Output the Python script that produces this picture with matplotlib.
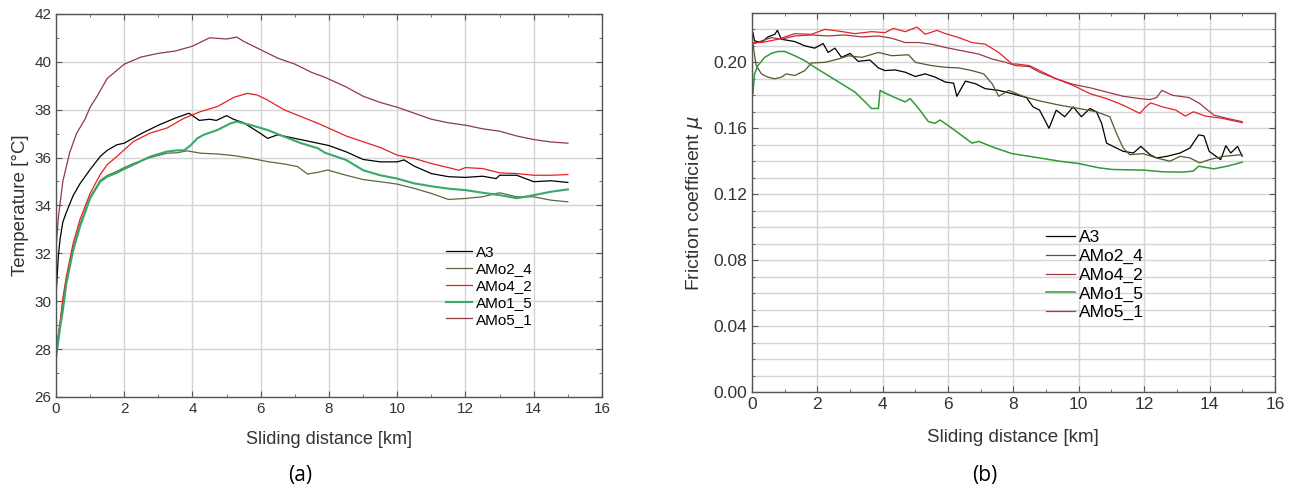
import matplotlib.pyplot as plt
from matplotlib.ticker import MultipleLocator

plt.rcParams['font.family'] = ['Liberation Sans', 'DejaVu Sans']

# ---- (a) temperature vs sliding distance ----
t_a3_x = [0, 0.07, 0.12, 0.2, 0.3, 0.5, 0.7, 1.0, 1.3, 1.5, 1.78, 2.0, 2.5, 3.0, 3.5, 3.9, 4.0, 4.2,
          4.5, 4.7, 5.0, 5.2, 5.5, 6.0, 6.2, 6.5, 7.0, 7.5, 8.0, 8.5, 9.0, 9.5, 10.0, 10.2, 10.5,
          11.0, 11.5, 12.0, 12.5, 12.9, 13.0, 13.5, 14.0, 14.5, 15.0]
t_a3_y = [30.2, 31.9, 32.6, 33.3, 33.7, 34.4, 34.9, 35.5, 36.05, 36.3, 36.53, 36.6, 37.0, 37.35,
          37.65, 37.85, 37.75, 37.55, 37.6, 37.55, 37.75, 37.6, 37.45, 37.0, 36.8, 36.95, 36.8,
          36.65, 36.5, 36.24, 35.92, 35.82, 35.82, 35.9, 35.64, 35.33, 35.2, 35.17, 35.22, 35.12,
          35.26, 35.26, 34.99, 35.03, 34.96]

t_amo24_x = [0, 0.12, 0.2, 0.3, 0.5, 0.7, 1.0, 1.3, 1.5, 1.78, 2.0, 2.27, 2.76, 3.25, 3.55, 3.84,
             4.24, 4.73, 5.22, 5.7, 6.2, 6.69, 7.08, 7.37, 7.67, 7.96, 8.5, 9.0, 9.5, 10.0, 10.5,
             11.0, 11.5, 12.0, 12.5, 13.0, 13.5, 14.0, 14.5, 15.0]
t_amo24_y = [27.9, 29.1, 29.9, 30.9, 32.2, 33.2, 34.35, 35.05, 35.25, 35.42, 35.58, 35.75, 36.0,
             36.18, 36.2, 36.28, 36.18, 36.15, 36.08, 35.97, 35.83, 35.73, 35.62, 35.31, 35.38,
             35.48, 35.26, 35.08, 34.99, 34.89, 34.71, 34.5, 34.25, 34.29, 34.36, 34.53, 34.36,
             34.36, 34.22, 34.15]

t_amo42_x = [0, 0.12, 0.2, 0.3, 0.5, 0.7, 1.0, 1.3, 1.5, 1.78, 2.27, 2.76, 3.25, 3.75, 4.24, 4.73,
             5.22, 5.61, 5.9, 6.2, 6.69, 7.18, 7.67, 7.88, 8.5, 9.0, 9.5, 10.0, 10.5, 11.0, 11.5,
             11.8, 12.0, 12.5, 13.0, 13.5, 14.0, 14.5, 15.0]
t_amo42_y = [27.9, 29.1, 30.1, 31.0, 32.4, 33.4, 34.5, 35.3, 35.7, 36.04, 36.67, 37.02, 37.23,
             37.64, 37.92, 38.13, 38.52, 38.68, 38.61, 38.4, 37.99, 37.71, 37.43, 37.3, 36.9,
             36.66, 36.42, 36.1, 35.96, 35.75, 35.58, 35.47, 35.58, 35.54, 35.36, 35.33, 35.26,
             35.26, 35.29]

t_amo15_x = [0, 0.12, 0.2, 0.3, 0.5, 0.7, 1.0, 1.3, 1.5, 1.78, 2.0, 2.27, 2.76, 3.25, 3.55, 3.75,
             3.94, 4.14, 4.33, 4.73, 5.12, 5.3, 5.7, 6.2, 6.69, 7.18, 7.67, 7.88, 8.5, 9.0, 9.5,
             10.0, 10.5, 11.0, 11.5, 12.0, 12.5, 13.0, 13.5, 14.0, 14.5, 15.0]
t_amo15_y = [27.6, 28.9, 29.6, 30.7, 32.1, 33.1, 34.3, 35.0, 35.2, 35.36, 35.52, 35.7, 36.04,
             36.25, 36.3, 36.3, 36.5, 36.8, 36.95, 37.15, 37.43, 37.5, 37.36, 37.15, 36.87, 36.6,
             36.39, 36.2, 35.9, 35.47, 35.26, 35.12, 34.92, 34.8, 34.7, 34.64, 34.53, 34.43, 34.3,
             34.43, 34.57, 34.67]

t_amo51_x = [0, 0.07, 0.2, 0.4, 0.6, 0.85, 1.0, 1.2, 1.5, 2.0, 2.5, 3.0, 3.5, 4.0, 4.5, 5.0, 5.3,
             5.5, 6.0, 6.5, 7.0, 7.5, 7.88, 8.5, 9.0, 9.5, 10.0, 10.5, 11.0, 11.5, 12.0, 12.5,
             13.0, 13.5, 14.0, 14.5, 15.0]
t_amo51_y = [32.2, 33.5, 35.0, 36.2, 37.0, 37.6, 38.1, 38.55, 39.3, 39.9, 40.2, 40.35, 40.45,
             40.65, 41.0, 40.95, 41.03, 40.85, 40.5, 40.15, 39.9, 39.55, 39.35, 38.95, 38.56,
             38.3, 38.1, 37.85, 37.6, 37.45, 37.35, 37.2, 37.1, 36.9, 36.75, 36.65, 36.6]

# ---- (b) friction coefficient vs sliding distance ----
f_a3_x = [0.03, 0.08, 0.29, 0.49, 0.7, 0.78, 0.9, 1.31, 1.62, 1.92, 2.18, 2.33, 2.54, 2.74, 3.0,
          3.25, 3.61, 3.87, 4.07, 4.38, 4.69, 5.0, 5.3, 5.61, 5.92, 6.17, 6.27, 6.53, 6.84, 7.14,
          7.55, 7.96, 8.4, 8.6, 8.8, 9.09, 9.31, 9.57, 9.83, 10.08, 10.34, 10.54, 10.7, 10.85,
          11.05, 11.36, 11.67, 11.9, 12.18, 12.38, 12.7, 13.1, 13.4, 13.67, 13.83, 13.99, 14.34,
          14.5, 14.65, 14.86, 15.0]
f_a3_y = [0.218, 0.213, 0.212, 0.2154, 0.217, 0.2194, 0.214, 0.2126, 0.21, 0.2086, 0.2114, 0.206,
          0.2086, 0.203, 0.2054, 0.2006, 0.2014, 0.1966, 0.195, 0.1954, 0.194, 0.1914, 0.193,
          0.191, 0.188, 0.1874, 0.1794, 0.1886, 0.187, 0.184, 0.183, 0.181, 0.1786, 0.173, 0.171,
          0.16, 0.171, 0.167, 0.173, 0.167, 0.172, 0.17, 0.163, 0.151, 0.149, 0.146, 0.145, 0.149,
          0.144, 0.142, 0.143, 0.145, 0.148, 0.156, 0.1554, 0.146, 0.141, 0.1494, 0.145, 0.149,
          0.143]

f_amo24_x = [0.03, 0.13, 0.29, 0.49, 0.7, 0.9, 1.05, 1.31, 1.62, 1.82, 2.23, 2.64, 2.95, 3.36,
             3.87, 4.28, 4.79, 5.0, 5.5, 5.92, 6.33, 6.73, 7.09, 7.35, 7.55, 7.86, 8.29, 8.8, 9.42,
             10.0, 10.54, 10.95, 11.15, 11.36, 11.56, 11.97, 12.38, 12.79, 13.1, 13.4, 13.7, 14.0,
             14.44, 15.0]
f_amo24_y = [0.211, 0.198, 0.193, 0.191, 0.19, 0.191, 0.193, 0.192, 0.195, 0.1996, 0.2, 0.202,
             0.204, 0.203, 0.206, 0.204, 0.2046, 0.2, 0.198, 0.197, 0.1966, 0.195, 0.193, 0.187,
             0.1794, 0.183, 0.1794, 0.1766, 0.174, 0.172, 0.17, 0.167, 0.157, 0.148, 0.144, 0.1446,
             0.142, 0.14, 0.143, 0.142, 0.139, 0.141, 0.143, 0.144]

f_amo42_x = [0.03, 0.29, 0.6, 0.9, 1.31, 1.82, 2.33, 2.85, 3.36, 3.87, 4.28, 4.69, 5.1, 5.5, 5.92,
             6.43, 6.94, 7.35, 7.76, 8.08, 8.49, 8.8, 9.31, 9.83, 10.34, 10.85, 11.36, 11.87,
             12.18, 12.38, 12.54, 12.87, 13.38, 13.7, 14.13, 14.54, 15.0]
f_amo42_y = [0.211, 0.213, 0.215, 0.214, 0.216, 0.2166, 0.216, 0.2166, 0.2154, 0.216, 0.2146,
             0.212, 0.212, 0.211, 0.209, 0.207, 0.205, 0.202, 0.2, 0.198, 0.1974, 0.194, 0.19,
             0.1866, 0.1846, 0.182, 0.1794, 0.178, 0.1774, 0.1786, 0.183, 0.18, 0.1786, 0.175,
             0.168, 0.166, 0.164]

f_amo15_x = [0.03, 0.08, 0.18, 0.39, 0.59, 0.8, 1.0, 1.31, 1.62, 1.92, 2.33, 2.74, 3.15, 3.46,
             3.66, 3.87, 3.92, 4.07, 4.38, 4.69, 4.84, 5.1, 5.4, 5.6, 5.76, 6.12, 6.53, 6.73, 6.94,
             7.45, 7.96, 8.8, 9.42, 10.0, 10.62, 11.03, 12.0, 12.56, 13.18, 13.5, 13.67, 14.13,
             14.54, 15.0]
f_amo15_y = [0.181, 0.193, 0.198, 0.203, 0.2054, 0.2066, 0.2066, 0.204, 0.201, 0.197, 0.192,
             0.187, 0.182, 0.176, 0.172, 0.172, 0.183, 0.1814, 0.1786, 0.176, 0.178, 0.172, 0.164,
             0.163, 0.165, 0.16, 0.154, 0.151, 0.152, 0.148, 0.1446, 0.142, 0.14, 0.1386, 0.136,
             0.135, 0.1346, 0.1336, 0.1334, 0.134, 0.137, 0.1354, 0.137, 0.1394]

f_amo51_x = [0.03, 0.29, 0.8, 1.31, 1.82, 2.23, 2.64, 3.15, 3.66, 4.07, 4.33, 4.69, 5.05, 5.3,
             5.66, 5.92, 6.33, 6.73, 7.14, 7.55, 7.96, 8.08, 8.49, 8.8, 9.31, 9.83, 10.34, 10.85,
             11.36, 11.87, 12.05, 12.2, 12.56, 12.97, 13.26, 13.51, 13.87, 14.4, 15.0]
f_amo51_y = [0.212, 0.212, 0.214, 0.2174, 0.217, 0.22, 0.219, 0.2174, 0.2186, 0.218, 0.2206,
             0.2186, 0.2214, 0.217, 0.2194, 0.2174, 0.215, 0.212, 0.211, 0.206, 0.199, 0.199,
             0.198, 0.195, 0.19, 0.186, 0.181, 0.178, 0.174, 0.169, 0.173, 0.1754, 0.173, 0.171,
             0.1674, 0.17, 0.1674, 0.166, 0.1634]

labels = ['A3', 'AMo2_4', 'AMo4_2', 'AMo1_5', 'AMo5_1']

fig = plt.figure(figsize=(12.96, 4.95), dpi=100)
ax1 = fig.add_axes([0.0432, 0.198, 0.4213, 0.774])
ax2 = fig.add_axes([0.5802, 0.208, 0.4035, 0.766])


def style_axes(ax):
    ax.grid(True, which='major', color='#d4d4d4', linewidth=1.0)
    ax.set_axisbelow(True)
    ax.tick_params(which='both', direction='in', top=True, right=True, color='#555555')
    ax.tick_params(which='major', length=4, labelsize=11, labelcolor='#333333')
    ax.tick_params(which='minor', length=2.5)
    for s in ax.spines.values():
        s.set_color('#555555')
        s.set_linewidth(1.0)


# panel (a)
ax1.plot(t_a3_x, t_a3_y, color='black', lw=0.9, label=labels[0])
ax1.plot(t_amo24_x, t_amo24_y, color='#5b6a3a', lw=0.9, label=labels[1])
ax1.plot(t_amo42_x, t_amo42_y, color='#e5211f', lw=0.9, label=labels[2])
ax1.plot(t_amo15_x, t_amo15_y, color='#36a96c', lw=1.5, label=labels[3])
ax1.plot(t_amo51_x, t_amo51_y, color='#8c3b42', lw=0.9, label=labels[4])
ax1.set_xlim(0, 16)
ax1.set_ylim(26, 42)
ax1.xaxis.set_major_locator(MultipleLocator(2))
ax1.xaxis.set_minor_locator(MultipleLocator(1))
ax1.yaxis.set_major_locator(MultipleLocator(2))
ax1.yaxis.set_minor_locator(MultipleLocator(1))
style_axes(ax1)
ax1.set_xlabel('Sliding distance [km]', fontsize=13, color='#333333', labelpad=11)
ax1.set_ylabel('Temperature [°C]', fontsize=13.5, color='#333333', labelpad=4)
ax1.legend(loc='upper left', bbox_to_anchor=(0.70, 0.415), frameon=False, fontsize=11,
           handlelength=1.7, handletextpad=0.3, labelspacing=0.18, borderpad=0)

# panel (b) - legend colours follow the original: AMo4_2 brownish, AMo5_1 bright red
ax2.plot(f_a3_x, f_a3_y, color='black', lw=0.9, label=labels[0])
ax2.plot(f_amo24_x, f_amo24_y, color='#4e5a30', lw=0.9, label=labels[1])
ax2.plot(f_amo42_x, f_amo42_y, color='#9a3a44', lw=0.9, label=labels[2])
ax2.plot(f_amo15_x, f_amo15_y, color='#2f9a36', lw=1.1, label=labels[3])
ax2.plot(f_amo51_x, f_amo51_y, color='#e8202a', lw=0.9, label=labels[4])
ax2.set_xlim(0, 16)
ax2.set_ylim(0, 0.23)
ax2.xaxis.set_major_locator(MultipleLocator(2))
ax2.xaxis.set_minor_locator(MultipleLocator(1))
ax2.yaxis.set_major_locator(MultipleLocator(0.04))
ax2.yaxis.set_minor_locator(MultipleLocator(0.01))
ax2.yaxis.set_major_formatter(lambda v, p: f'{v:.2f}')
style_axes(ax2)
ax2.grid(True, which='minor', axis='y', color='#d4d4d4', linewidth=1.0)
ax2.tick_params(which='major', labelsize=12.5)
ax2.set_xlabel('Sliding distance [km]', fontsize=13.5, color='#333333', labelpad=12)
ax2.set_ylabel(r'Friction coefficient $\mu$', fontsize=14, color='#333333', labelpad=6)
ax2.legend(loc='upper left', bbox_to_anchor=(0.545, 0.45), frameon=False, fontsize=12.5,
           handlelength=1.7, handletextpad=0.2, labelspacing=0.2, borderpad=0)

fig.text(0.2315, 0.04, '(a)', fontsize=15, family='Open Sans', ha='center', va='center')
fig.text(0.760, 0.04, '(b)', fontsize=15, family='Open Sans', ha='center', va='center')

fig.savefig('out.png', dpi=100)
